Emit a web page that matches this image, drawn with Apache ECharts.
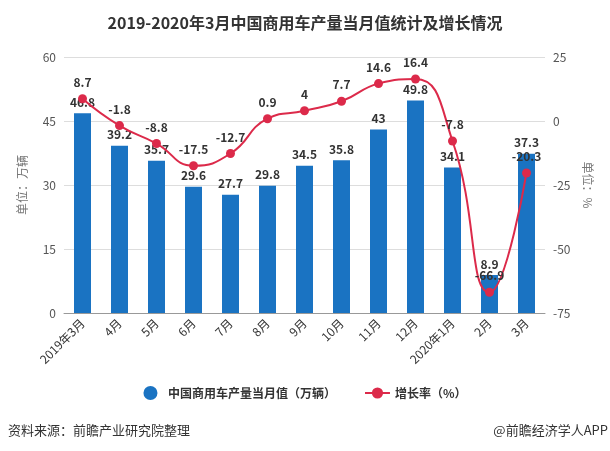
<!DOCTYPE html>
<html>
<head>
<meta charset="utf-8">
<script src="https://cdn.jsdelivr.net/npm/echarts@6/dist/echarts.min.js"></script>
<style>html,body{margin:0;padding:0;background:#fff;}#c{width:610px;height:451px;}</style>
</head>
<body>
<div id="c"></div>
<script>
const categories = ['2019年3月','4月','5月','6月','7月','8月','9月','10月','11月','12月','2020年1月','2月','3月'];
const production = [46.8,39.2,35.7,29.6,27.7,29.8,34.5,35.8,43,49.8,34.1,8.9,37.3];
const growth = [8.7,-1.8,-8.8,-17.5,-12.7,0.9,4,7.7,14.6,16.4,-7.8,-66.9,-20.3];
const barName = '中国商用车产量当月值（万辆）';
const lineName = '增长率（%）';

const chart = echarts.init(document.getElementById('c'));
const font = 'Microsoft YaHei, "Noto Sans CJK SC", sans-serif';
chart.setOption({
  backgroundColor: '#fff',
  textStyle: {fontFamily: font},
  title: {
    text: '2019-2020年3月中国商用车产量当月值统计及增长情况',
    left: 'center', top: 10,
    textStyle: {fontSize: 16, fontWeight: 'bold', color: '#333', fontFamily: font}
  },
  graphic: [
    {type: 'text', left: 8, top: 424, style: {text: '资料来源：前瞻产业研究院整理', font: '13px ' + font, fill: '#333'}},
    {type: 'text', right: 2, top: 424, style: {text: '@前瞻经济学人APP', font: '13px ' + font, fill: '#333'}}
  ],
  legend: {
    bottom: 46, left: 'center', itemGap: 28,
    textStyle: {fontSize: 12, color: '#333', fontWeight: 'bold'},
    data: [{name: barName, icon: 'circle'}, {name: lineName}]
  },
  grid: {left: 64, right: 65, top: 57, bottom: 138},
  xAxis: {
    type: 'category', data: categories,
    axisLine: {lineStyle: {color: '#999'}},
    axisTick: {alignWithLabel: true, lineStyle: {color: '#999'}},
    axisLabel: {rotate: 45, color: '#333', fontSize: 12, interval: 0}
  },
  yAxis: [
    {
      type: 'value', min: 0, max: 60, interval: 15,
      name: '单位：万辆', nameLocation: 'middle', nameGap: 36, nameRotate: 90,
      nameTextStyle: {color: '#777', fontSize: 12},
      axisLine: {show: false}, axisTick: {show: false},
      axisLabel: {color: '#555', fontSize: 12},
      splitLine: {lineStyle: {color: '#ddd'}}
    },
    {
      type: 'value', min: -75, max: 25, interval: 25,
      name: '单位：%', nameLocation: 'middle', nameGap: 34, nameRotate: -90,
      nameTextStyle: {color: '#777', fontSize: 12},
      axisLine: {show: false}, axisTick: {show: false},
      axisLabel: {color: '#555', fontSize: 12},
      splitLine: {show: false}
    }
  ],
  series: [
    {
      name: barName, type: 'bar', data: production, barWidth: 17,
      itemStyle: {color: '#1a73c2'},
      label: {show: true, position: 'top', color: '#333', fontWeight: 'bold', fontSize: 12}
    },
    {
      name: lineName, type: 'line', yAxisIndex: 1, data: growth, smooth: true,
      symbol: 'circle', symbolSize: 9,
      itemStyle: {color: '#dc2a4a'}, lineStyle: {color: '#dc2a4a', width: 2},
      label: {show: true, position: 'top', color: '#333', fontWeight: 'bold', fontSize: 12, distance: 6}
    }
  ]
});
</script>
</body>
</html>
